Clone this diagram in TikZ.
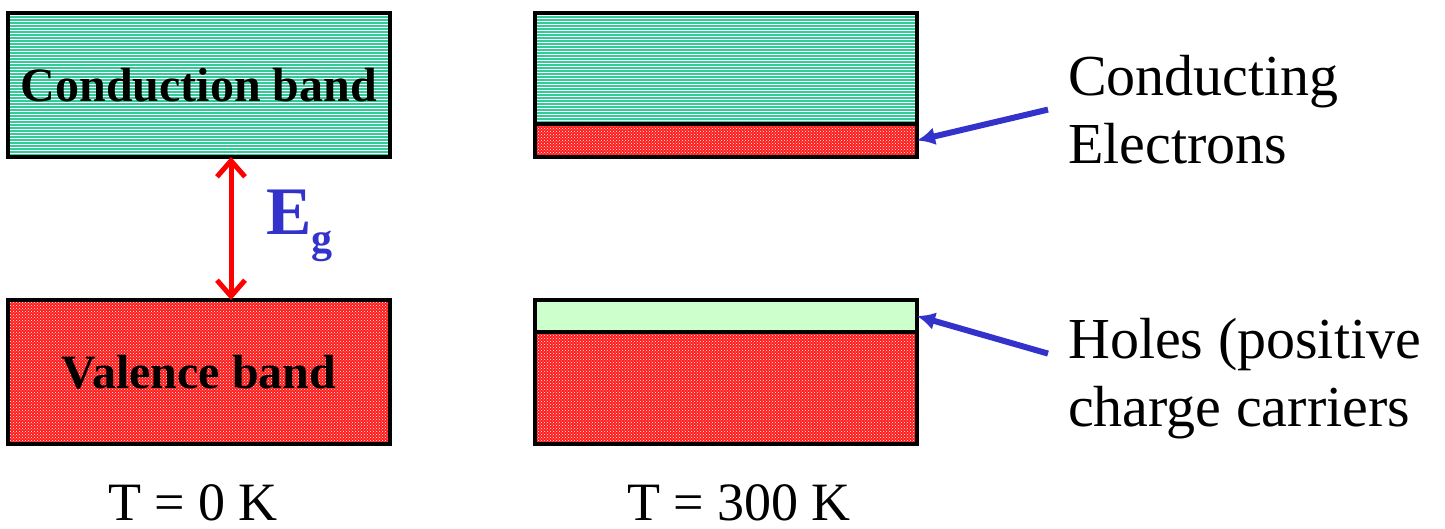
\documentclass[tikz,border=0pt]{standalone}
\usepackage{fontspec}
\setmainfont{Liberation Serif}
\usetikzlibrary{arrows.meta, positioning, calc, patterns}
\definecolor{cband}{HTML}{33CC99}
\definecolor{vband}{HTML}{FF1A1A}
\definecolor{holes}{HTML}{CCFFCC}
\definecolor{note}{HTML}{3333CC}

\tikzset{
  band/.style={draw=black, line width=3.5pt, inner sep=0pt, outer sep=0pt, minimum width=382pt},
  cond/.style={band, pattern=horizontal lines, pattern color=white, preaction={fill=cband}},
  val/.style={band, pattern=crosshatch dots, pattern color=white, preaction={fill=vband}},
  bandtext/.style={font=\fontsize{48}{48}\selectfont\bfseries},
  side/.style={font=\fontsize{58}{68}\selectfont, align=left, inner sep=0pt, anchor=north west},
  temp/.style={font=\fontsize{54}{54}\selectfont, inner sep=0pt, anchor=base}
}

\begin{document}
\begin{tikzpicture}[x=1pt, y=-1pt]
  \useasboundingbox (0,0) rectangle (1445,529);

  % T = 0 K
  \node[cond, bandtext, minimum height=144pt, anchor=north west] (cb) at (8,13) {Conduction band};
  \node[val, bandtext, minimum height=144pt, anchor=north west] (vb) at (8,300) {Valence band};
  \draw[{Straight Barb[length=16pt, width=28pt]}-{Straight Barb[length=16pt, width=28pt]}, line width=5pt, red]
    (cb.south -| 231,0) -- (vb.north -| 231,0);
  \node[note, inner sep=0pt, anchor=west, font=\fontsize{68}{68}\selectfont\bfseries] (eg) at (266,226)
    {E\raisebox{-18pt}{\fontsize{42}{42}\selectfont g}};

  % T = 300 K
  \node[cond, minimum height=111pt, anchor=north west] (ce) at (535,13) {};
  \node[val, minimum height=33pt, below=0pt of ce] (cr) {};
  \node[band, fill=holes, minimum height=32pt, anchor=north west] (vh) at (535,300) {};
  \node[val, minimum height=112pt, below=0pt of vh] (vr) {};

  % labels
  \node[side] (cl) at (1068,55) {Conducting\\Electrons};
  \node[side] (hl) at (1068,318) {Holes (positive\\charge carriers};
  \draw[-{Latex[length=18pt, width=18pt]}, line width=6pt, note] ([xshift=-20pt]cl.west) -- (cr.east);
  \draw[-{Latex[length=18pt, width=18pt]}, line width=6pt, note] ([shift={(-20,-25)}]hl.west) -- (vh.east);

  \node[temp] (t0) at (193,520) {T = 0 K};
  \node[temp] (t3) at (739,520) {T = 300 K};
\end{tikzpicture}
\end{document}
